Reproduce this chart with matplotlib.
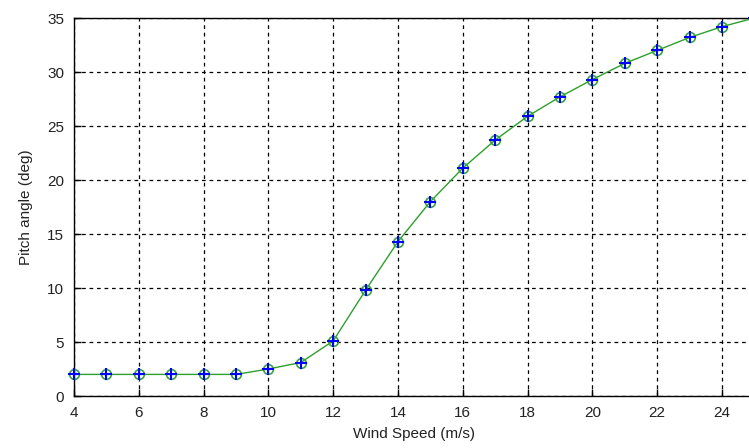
import matplotlib
matplotlib.use("Agg")
import matplotlib.pyplot as plt

wind_speed = [4, 5, 6, 7, 8, 9, 10, 11, 12, 13, 14, 15, 16, 17, 18, 19, 20, 21, 22, 23, 24, 25]
pitch_angle = [2.0, 2.0, 2.0, 2.0, 2.0, 2.0, 2.5, 3.1, 5.1, 9.8, 14.3, 18.0, 21.1, 23.7, 25.9, 27.7,
               29.3, 30.8, 32.0, 33.2, 34.2, 35.0]
x_ticks = [4, 6, 8, 10, 12, 14, 16, 18, 20, 22, 24]
y_ticks = [0, 5, 10, 15, 20, 25, 30, 35]

plt.rcParams['font.family'] = ['Liberation Sans', 'DejaVu Sans']
fig = plt.figure(figsize=(7.49, 4.48), dpi=100)
ax = fig.add_axes([74/749, 1-396/448, (754.4-74)/749, (396-18)/448])

ax.plot(wind_speed, pitch_angle, color='#2ca02c', lw=1.0, marker='o', ms=7,
        mfc='none', mec='#3aa53a', mew=1.2, zorder=3, clip_on=False)
ax.plot(wind_speed, pitch_angle, ls='none', marker='+', ms=8, mec='blue', mew=1.5, zorder=4,
        clip_on=False)

ax.set_xlim(4, 25)
ax.set_ylim(0, 35)
ax.set_xticks(x_ticks)
ax.set_yticks(y_ticks)
ax.grid(True, color='black', linestyle=(0, (3, 3)), linewidth=0.9)
ax.tick_params(direction='in', length=5, labelsize=11, width=1, pad=7, colors='black',
               labelcolor='#222222')
for s in ax.spines.values():
    s.set_linewidth(1.0)
ax.set_xlabel('Wind Speed (m/s)', fontsize=11, labelpad=5, color='#222222')
ax.set_ylabel('Pitch angle (deg)', fontsize=11, labelpad=10, color='#222222')

fig.savefig('out.png', dpi=100)
